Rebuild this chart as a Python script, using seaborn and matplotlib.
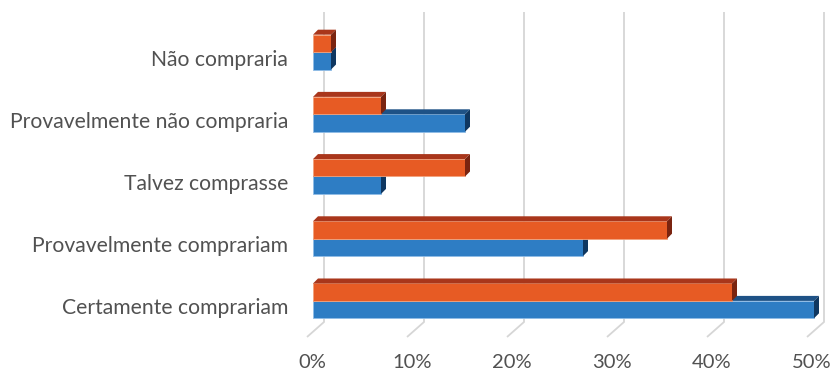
import matplotlib
matplotlib.use("Agg")
import matplotlib.pyplot as plt
import seaborn as sns
import pandas as pd
from matplotlib.patches import Polygon
from matplotlib.transforms import ScaledTranslation

# Data
categories = [
    "Não compraria",
    "Provavelmente não compraria",
    "Talvez comprasse",
    "Provavelmente comprariam",
    "Certamente comprariam",
]
series_names = ["Grupo 1", "Grupo 2"]
values_orange = [1.8, 6.8, 15.2, 35.4, 41.9]
values_blue = [1.8, 15.2, 6.8, 27.0, 50.1]
tick_values = [0, 10, 20, 30, 40, 50]
tick_labels = ["0%", "10%", "20%", "30%", "40%", "50%"]

# Colours: front face, top face, side face, outline
orange = ("#E75B24", "#A9361B", "#7A2410", "#F3A27C")
blue = ("#2E7DC4", "#1E5286", "#0F3760", "#8FBCE6")
text_color = "#515151"
grid_color = "#D6D6D6"

df = pd.DataFrame({
    "categoria": categories * 2,
    "valor": values_orange + values_blue,
    "serie": [series_names[0]] * len(categories) + [series_names[1]] * len(categories),
})

sns.set_theme(style="white")
plt.rcParams["font.family"] = ["Lato", "DejaVu Sans"]

W, H = 832, 374
fig = plt.figure(figsize=(W / 100, H / 100), dpi=100)
fig.patch.set_facecolor("white")

# Axes: bar origin at x=313px, 10px per 1%; categories 62.2px apart
ax_left, ax_top, ax_w, ax_h = 313, 21, 520, 311
ax = fig.add_axes([ax_left / W, (H - ax_top - ax_h) / H, ax_w / W, ax_h / H])
ax.set_facecolor("none")

sns.barplot(
    data=df, x="valor", y="categoria", hue="serie",
    hue_order=series_names, order=categories,
    palette=[orange[0], blue[0]], saturation=1,
    width=0.56, orient="h", legend=False, ax=ax,
)
ax.set_xlim(0, 52)
ax.set_ylim(4.5, -0.5)

px_x = ax_w / 52.0          # pixels per data unit (x)
px_y = ax_h / 5.0           # pixels per category unit (y)
def ypx(py):
    """Vertical position in pixels from the top of the figure to data units."""
    return (py - ax_top) / px_y - 0.5

# 3-D look: extruded top and side faces for each bar
depth = 5.0
dx, dy = depth / px_x, depth / px_y
for cont, cols, z in ((ax.containers[1], blue, 2), (ax.containers[0], orange, 3)):
    for bar in cont:
        x0 = bar.get_x()
        x1 = x0 + bar.get_width()
        yt = min(bar.get_y(), bar.get_y() + bar.get_height())
        yb = max(bar.get_y(), bar.get_y() + bar.get_height())
        bar.set_zorder(z)
        bar.set_edgecolor(cols[3])
        bar.set_linewidth(0.6)
        top = Polygon([(x0, yt), (x1, yt), (x1 + dx, yt - dy), (x0 + dx, yt - dy)],
                      closed=True, facecolor=cols[1], edgecolor="none",
                      zorder=z + 0.1, clip_on=False)
        side = Polygon([(x1, yt), (x1, yb), (x1 + dx, yb - dy), (x1 + dx, yt - dy)],
                       closed=True, facecolor=cols[2], edgecolor="none",
                       zorder=z + 0.1, clip_on=False)
        ax.add_patch(top)
        ax.add_patch(side)

# Back-wall gridlines with slanted floor ticks
back_off = 11 / px_x
slant_x, slant_y = 17 / px_x, 15 / px_y
y_top, y_floor = ypx(12), ypx(322)
for v in tick_values:
    xb = v + back_off
    ax.plot([xb, xb, xb - slant_x], [y_top, y_floor, y_floor + slant_y],
            color=grid_color, lw=1.3, zorder=1, clip_on=False,
            solid_capstyle="butt", solid_joinstyle="miter")

# Percentage labels on the front edge of the floor
for v, lab in zip(tick_values, tick_labels):
    ax.text(v - 0.1, ypx(363), lab, ha="center", va="center",
            fontsize=14.5, color=text_color)

ax.set_xticks([])
ax.set_xlabel("")
ax.set_ylabel("")
ax.tick_params(axis="y", length=0, pad=18, labelsize=15.2, labelcolor=text_color)
shift = ScaledTranslation(0, -5.5 / 100, fig.dpi_scale_trans)
for lab in ax.get_yticklabels():
    lab.set_transform(lab.get_transform() + shift)
for s in ax.spines.values():
    s.set_visible(False)

fig.savefig("out.png", dpi=100, facecolor="white")
